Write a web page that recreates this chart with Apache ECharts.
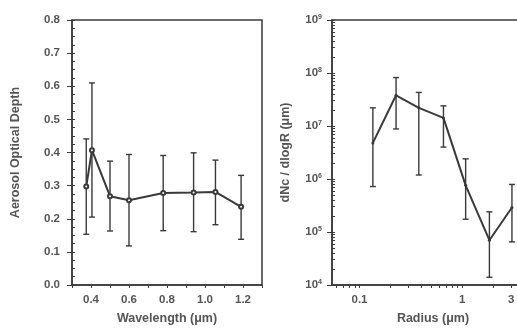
<!DOCTYPE html>
<html>
<head>
<meta charset="utf-8">
<script src="https://cdn.jsdelivr.net/npm/echarts@6/dist/echarts.min.js"></script>
<style>
  html, body { margin: 0; padding: 0; background: #fff; overflow: hidden; }
  #chart { width: 545px; height: 330px; }
</style>
</head>
<body>
<div id="chart"></div>
<script>
// left panel: aerosol optical depth vs wavelength
var wavelength = [0.375, 0.405, 0.50, 0.60, 0.78, 0.94, 1.055, 1.19];
var aod = [0.297, 0.407, 0.268, 0.256, 0.278, 0.279, 0.281, 0.236];
var aodLow = [0.153, 0.205, 0.163, 0.118, 0.164, 0.161, 0.182, 0.138];
var aodHigh = [0.441, 0.610, 0.374, 0.394, 0.391, 0.399, 0.377, 0.331];

// right panel: size distribution vs radius
var radius = [0.135, 0.227, 0.378, 0.657, 1.08, 1.84, 3.05];
var dnc = [4.8e6, 3.8e7, 2.2e7, 1.42e7, 7.6e5, 7.0e4, 2.9e5];
var dncLow = [7.2e5, 8.8e6, 1.19e6, 4.0e6, 1.74e5, 1.4e4, 6.5e4];
var dncHigh = [2.2e7, 8.2e7, 4.3e7, 2.4e7, 2.4e6, 2.4e5, 7.9e5];

// tick labels
var wlLabels = [0.4, 0.6, 0.8, 1.0, 1.2];
var radLabels = [0.1, 1, 3];
var dncLabels = [1e4, 1e5, 1e6, 1e7, 1e8, 1e9];

var ink = '#3a3a3a';
var txt = '#555';
var font = 'Liberation Sans';

// minor log ticks (2..9 x 10^n)
function logTicks(lo, hi) {
   var out = [];
   for (var e = -2; e <= 9; e++) {
      for (var k = 1; k < 10; k++) {
         var v = k * Math.pow(10, e);
         if (v >= lo * 0.999 && v <= hi * 1.001) out.push(v);
      }
   }
   return out;
}

function pairs(xs, ys) {
   return xs.map(function (x, i) { return [x, ys[i]]; });
}

function errData(xs, lo, hi) {
   return xs.map(function (x, i) { return [x, lo[i], hi[i]]; });
}

function errRender(params, api) {
   var x = api.value(0);
   var top = api.coord([x, api.value(2)]);
   var bot = api.coord([x, api.value(1)]);
   var w = 3;
   var st = { stroke: ink, lineWidth: 1.4 };
   return {
      type: 'group',
      children: [
         { type: 'line', shape: { x1: top[0], y1: top[1], x2: bot[0], y2: bot[1] }, style: st },
         { type: 'line', shape: { x1: top[0] - w, y1: top[1], x2: top[0] + w, y2: top[1] }, style: st },
         { type: 'line', shape: { x1: bot[0] - w, y1: bot[1], x2: bot[0] + w, y2: bot[1] }, style: st }
      ]
   };
}

var labelStyle = { color: txt, fontFamily: font, fontWeight: 'bold', fontSize: 11.5 };
var nameStyle = { color: txt, fontFamily: font, fontWeight: 'bold', fontSize: 12.5 };
var lineStyle = { color: ink, width: 1.5 };

function supLabel(v) {
   var e = Math.round(Math.log10(v));
   return '{b|10}{s|' + e + '}';
}

var chart = echarts.init(document.getElementById('chart'), null, { renderer: 'canvas' });

chart.setOption({
   backgroundColor: '#fff',
   animation: false,
   grid: [
      { left: 72, top: 20, width: 190, height: 266, show: true, borderColor: ink, borderWidth: 1.5, backgroundColor: 'transparent' },
      { left: 332, top: 20, width: 202, height: 266, show: true, borderColor: ink, borderWidth: 1.5, backgroundColor: 'transparent' }
   ],
   xAxis: [
      {
         gridIndex: 0, type: 'value', min: 0.3, max: 1.3, interval: 0.1,
         name: 'Wavelength (μm)', nameLocation: 'middle', nameGap: 27, nameTextStyle: nameStyle,
         axisLine: { lineStyle: lineStyle },
         axisTick: { length: 3, lineStyle: { color: ink } },
         axisLabel: Object.assign({ margin: 9, customValues: wlLabels, formatter: function (v) { return v.toFixed(1); } }, labelStyle),
         splitLine: { show: false }
      },
      {
         gridIndex: 1, type: 'log', logBase: 10, min: 0.054, max: 5,
         name: 'Radius (μm)', nameLocation: 'middle', nameGap: 27, nameTextStyle: nameStyle,
         axisLine: { lineStyle: lineStyle },
         axisTick: { length: 3, lineStyle: { color: ink }, customValues: logTicks(0.054, 5) },
         axisLabel: Object.assign({ margin: 9, customValues: radLabels, formatter: function (v) { return String(+v.toPrecision(3)); } }, labelStyle),
         splitLine: { show: false }
      }
   ],
   yAxis: [
      {
         gridIndex: 0, type: 'value', position: 'left', min: 0, max: 0.8, interval: 0.1,
         name: 'Aerosol Optical Depth', nameLocation: 'middle', nameGap: 50, nameTextStyle: nameStyle,
         axisLine: { lineStyle: lineStyle },
         axisTick: { length: 5, lineStyle: { color: ink } },
         axisLabel: Object.assign({ margin: 12, formatter: function (v) { return v.toFixed(1); } }, labelStyle),
         splitLine: { show: false }
      },
      {
         gridIndex: 0, type: 'value', position: 'left', min: 0, max: 0.8, interval: 0.025,
         axisLine: { show: false },
         axisTick: { inside: true, length: 3, lineStyle: { color: ink } },
         axisLabel: { show: false },
         splitLine: { show: false }
      },
      {
         gridIndex: 1, type: 'log', position: 'left', logBase: 10, min: 1e4, max: 1e9,
         name: 'dNc / dlogR (μm)', nameLocation: 'middle', nameGap: 40, nameTextStyle: nameStyle,
         axisLine: { lineStyle: lineStyle },
         axisTick: { length: 5, lineStyle: { color: ink }, customValues: dncLabels },
         axisLabel: {
            margin: 10, customValues: dncLabels, formatter: supLabel,
            rich: {
               b: labelStyle,
               s: { color: txt, fontFamily: font, fontWeight: 'bold', fontSize: 7, verticalAlign: 'top', padding: [0, 0, 6, 0] }
            }
         },
         splitLine: { show: false }
      },
      {
         gridIndex: 1, type: 'log', position: 'left', logBase: 10, min: 1e4, max: 1e9,
         axisLine: { show: false },
         axisTick: { inside: true, length: 3, lineStyle: { color: ink }, customValues: logTicks(1e4, 1e9) },
         axisLabel: { show: false },
         splitLine: { show: false }
      }
   ],
   series: [
      {
         type: 'custom', xAxisIndex: 0, yAxisIndex: 0, renderItem: errRender,
         encode: { x: 0, y: [1, 2] }, data: errData(wavelength, aodLow, aodHigh), z: 2
      },
      {
         type: 'line', xAxisIndex: 0, yAxisIndex: 0, data: pairs(wavelength, aod),
         symbol: 'emptyCircle', symbolSize: 4,
         lineStyle: { color: ink, width: 2 }, itemStyle: { color: ink, borderWidth: 1.2 }, z: 3
      },
      {
         type: 'custom', xAxisIndex: 1, yAxisIndex: 2, renderItem: errRender,
         encode: { x: 0, y: [1, 2] }, data: errData(radius, dncLow, dncHigh), z: 2
      },
      {
         type: 'line', xAxisIndex: 1, yAxisIndex: 2, data: pairs(radius, dnc),
         symbol: 'circle', symbolSize: 3,
         lineStyle: { color: ink, width: 2 }, itemStyle: { color: ink }, z: 3
      }
   ]
});
</script>
</body>
</html>
